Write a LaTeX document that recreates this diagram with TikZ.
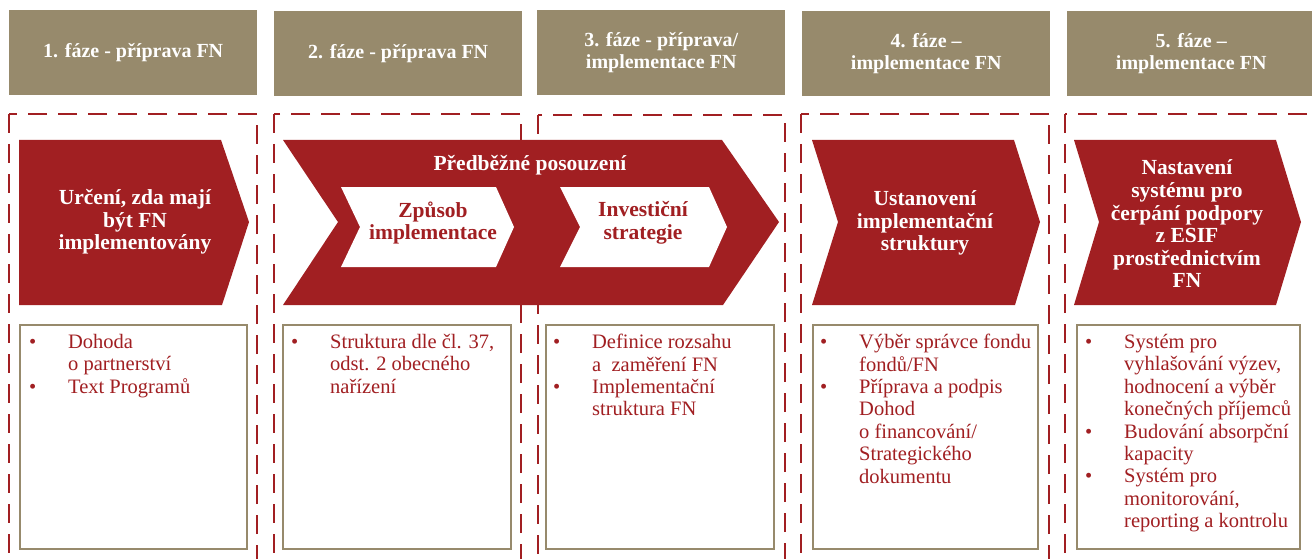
\documentclass[tikz,border=0pt]{standalone}
\usepackage{fontspec}
\setmainfont{Liberation Serif}
\usetikzlibrary{positioning}
\definecolor{fnred}{HTML}{A11F22}
\definecolor{fntan}{HTML}{978A6C}
\newcommand{\bitem}{\makebox[39pt][l]{\textbullet}}
\newcommand{\bcont}{\hspace*{39pt}}

\begin{document}
\begin{tikzpicture}[x=1pt, y=-1pt,
    phase/.style={rectangle, draw=none, fill=fntan, minimum width=248pt, minimum height=85pt,
        text centered, anchor=north west, text=white, inner sep=0pt,
        font=\bfseries\fontsize{20}{22.5}\selectfont, align=center},
    frame/.style={draw=fnred, line width=2.6pt, dash pattern=on 19pt off 11pt},
    arrowbox/.style={fill=fnred, draw=none},
    innerbox/.style={fill=white, draw=none},
    steptext/.style={text=white, font=\bfseries\fontsize{21.5}{22.6}\selectfont, align=center},
    innertext/.style={text=fnred, font=\bfseries\fontsize{21.5}{22.6}\selectfont, align=center},
    itembox/.style={rectangle, draw=fntan, line width=2pt, fill=white},
    items/.style={text=fnred, font=\fontsize{20.5}{22.4}\selectfont, align=left,
        anchor=north west, inner sep=0pt}
]
\clip (0,0) rectangle (1312,559);

% phase headers
\node (Phase1) [phase] at (9,10) {1. fáze - příprava FN};
\node (Phase2) [phase] at (274,11) {2. fáze - příprava FN};
\node (Phase3) [phase] at (537,10) {3. fáze - příprava/\\implementace FN};
\node (Phase4) [phase] at (802,11) {4. fáze --\\implementace FN};
\node (Phase5) [phase] at (1067,11) {5. fáze --\\implementace FN};

% dashed frames
\draw [frame] (9,114) rectangle (257,620);
\draw [frame] (274,114) rectangle (521,620);
\draw [frame] (538,115) rectangle (785,620);
\draw [frame] (801,114) rectangle (1049,620);
\draw [frame] (1065,114) rectangle (1340,620);

% chevrons
\fill [arrowbox] (19,140) -- (221,140) -- (249,222) -- (222,305) -- (19,305) -- cycle;
\fill [arrowbox] (283,140) -- (722,140) -- (779,222) -- (723,305) -- (283,305) -- (338,222) -- cycle;
\fill [innerbox] (341,187) -- (496,187) -- (514,227) -- (496,267) -- (341,267) -- (360,227) -- cycle;
\fill [innerbox] (560,187) -- (709,187) -- (727,227) -- (709,267) -- (560,267) -- (580,227) -- cycle;
\fill [arrowbox] (812,140) -- (1014,140) -- (1040,222) -- (1015,305) -- (812,305) -- (838,222) -- cycle;
\fill [arrowbox] (1074,140) -- (1276,140) -- (1301,222) -- (1276,305) -- (1074,305) -- (1099,222) -- cycle;

\node (Step1) [steptext] at (135,222) {Určení, zda mají\\být FN\\implementovány};
\node (Assess) [steptext] at (530,165) {Předběžné posouzení};
\node (Way) [innertext] at (433,223) {Způsob\\implementace};
\node (Invest) [innertext] at (643,223) {Investiční\\strategie};
\node (Step4) [steptext] at (925,223) {Ustanovení\\implementační\\struktury};
\node (Step5) [steptext] at (1187,224) {Nastavení\\systému pro\\čerpání podpory\\z ESIF\\prostřednictvím\\FN};

% item boxes
\draw [itembox] (20,325) rectangle (247,549);
\draw [itembox] (283,325) rectangle (511,549);
\draw [itembox] (546,325) rectangle (774,549);
\draw [itembox] (813,325) rectangle (1038,549);
\draw [itembox] (1077,325) rectangle (1300,549);

\node (Items1) [items] at (29,334) {\bitem Dohoda\\\bcont o partnerství\\\bitem Text Programů};
\node (Items2) [items] at (291,334) {\bitem Struktura dle čl. 37,\\\bcont odst. 2 obecného\\\bcont nařízení};
\node (Items3) [items] at (553,334) {\bitem Definice rozsahu\\\bcont a\ \ zaměření FN\\\bitem Implementační\\\bcont struktura FN};
\node (Items4) [items] at (820,334) {\bitem Výběr správce fondu\\\bcont fondů/FN\\\bitem Příprava a podpis\\\bcont Dohod\\\bcont o financování/\\\bcont Strategického\\\bcont dokumentu};
\node (Items5) [items] at (1085,334) {\bitem Systém pro\\\bcont vyhlašování výzev,\\\bcont hodnocení a výběr\\\bcont konečných příjemců\\\bitem Budování absorpční\\\bcont kapacity\\\bitem Systém pro\\\bcont monitorování,\\\bcont reporting a kontrolu};
\end{tikzpicture}
\end{document}
